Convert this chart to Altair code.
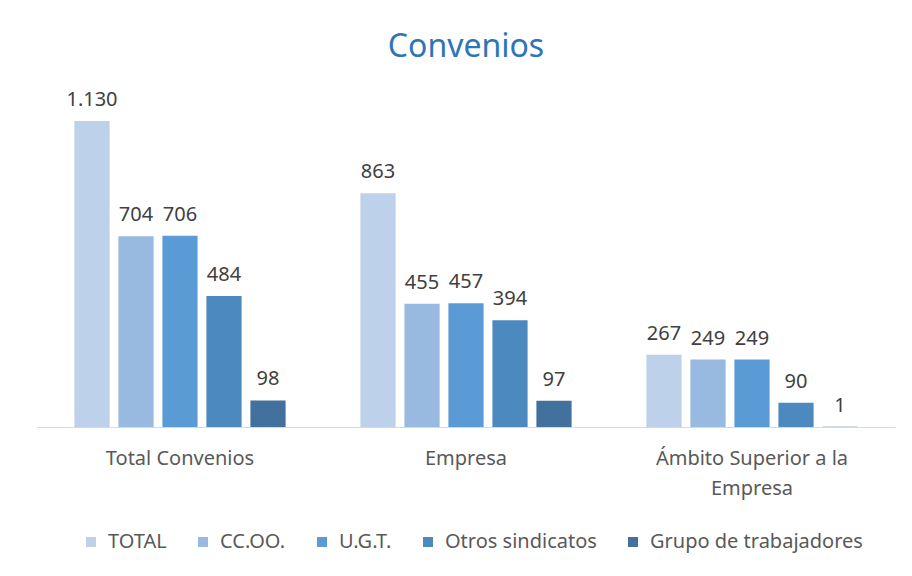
import altair as alt
import pandas as pd

categories = ["Total Convenios", "Empresa", "Ámbito Superior a la Empresa"]
series = ["TOTAL", "CC.OO.", "U.G.T.", "Otros sindicatos", "Grupo de trabajadores"]
values = {
    "TOTAL": [1130, 863, 267],
    "CC.OO.": [704, 455, 249],
    "U.G.T.": [706, 457, 249],
    "Otros sindicatos": [484, 394, 90],
    "Grupo de trabajadores": [98, 97, 1],
}
colors = ["#BDD1EA", "#98B9E0", "#5B9BD5", "#4C89BE", "#41719C"]

rows = []
for s in series:
    for c, v in zip(categories, values[s]):
        rows.append({"cat": c, "serie": s, "valor": v,
                     "etiqueta": f"{v:,}".replace(",", ".")})
df = pd.DataFrame(rows)

FONT = "Noto Sans"

x = alt.X("cat:N", sort=categories, title=None,
          scale=alt.Scale(paddingInner=0, paddingOuter=0),
          axis=alt.Axis(labelAngle=0, ticks=False, domainColor="#D9D9D9",
                        domainWidth=1, labelFontSize=20, labelColor="#595959",
                        labelFont=FONT, labelPadding=21, labelLimit=300,
                        labelLineHeight=30,
                        labelExpr="datum.value == 'Ámbito Superior a la Empresa' ? ['Ámbito Superior a la', 'Empresa'] : datum.value"))
xo = alt.XOffset("serie:N", sort=series,
                 scale=alt.Scale(paddingInner=0.2, paddingOuter=0.85))
y = alt.Y("valor:Q", scale=alt.Scale(domain=[0, 1200]), axis=None)

bars = alt.Chart(df).mark_bar().encode(
    x=x, xOffset=xo, y=y,
    color=alt.Color("serie:N", sort=series,
                    scale=alt.Scale(domain=series, range=colors),
                    legend=alt.Legend(title=None, orient="none", direction="horizontal",
                                      legendX=44, legendY=430, columns=5,
                                      symbolType="square", symbolSize=100,
                                      symbolStrokeWidth=0, labelFontSize=20,
                                      labelFont=FONT, labelColor="#595959",
                                      labelLimit=400,
                                      columnPadding=26, labelOffset=7)),
)

labels = alt.Chart(df).mark_text(baseline="bottom", dy=-11, fontSize=20,
                                 font=FONT, color="#404040").encode(
    x=x, xOffset=xo, y=y, text="etiqueta:N")

chart = (bars + labels).properties(
    width=858, height=325,
    title=alt.Title("Convenios", fontSize=32, font=FONT, fontWeight="normal",
                    color="#2E75B6", offset=26, anchor="middle"),
    padding={"left": 29, "top": 94, "right": 9, "bottom": 141},
    autosize=alt.AutoSizeParams(type="none"),
).configure_view(stroke=None)

chart.save("out.html", embed_options={"renderer": "svg", "actions": False})
